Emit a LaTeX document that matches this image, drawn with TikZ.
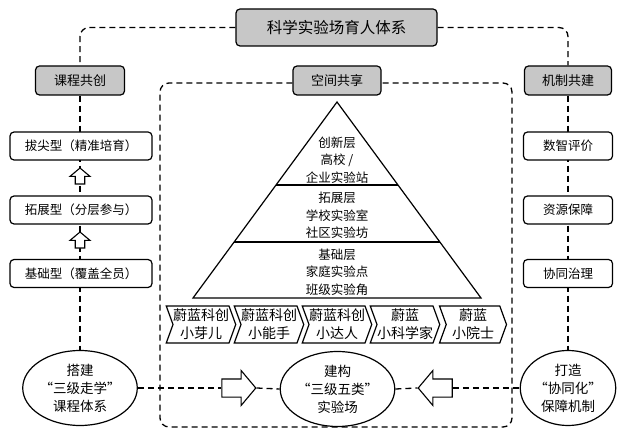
\documentclass[tikz,border=0pt]{standalone}
\usepackage{fontspec}
\setmainfont{Noto Sans CJK SC}
\usetikzlibrary{shapes.geometric, shapes.arrows, shapes.symbols, backgrounds, calc}
\newcommand*{\boxGray}{black!22}
\newcommand*{\lw}{1.2pt}
\newcommand*{\fsz}[2]{\fontsize{#1}{#2}\selectfont}
\tikzset{
  headbox/.style={draw, line width=\lw, rounded corners=4pt, fill=\boxGray, minimum height=29pt, inner sep=0pt, font=\fsz{13}{13}},
  sidebox/.style={draw, line width=\lw, rounded corners=4pt, fill=white, minimum height=28pt, inner sep=0pt, font=\fsz{12.5}{12.5}},
  dashline/.style={line width=1.3pt, dash pattern=on 6pt off 4pt},
  hollowarrow/.style={draw, line width=1.1pt, fill=white, single arrow, inner xsep=0pt, single arrow tip angle=100},
  uparrow/.style={hollowarrow, rotate=90, minimum width=20pt, minimum height=16pt, inner ysep=3.5pt, single arrow head extend=4.5pt},
  chevron/.style={draw, line width=\lw, signal, signal to=east, signal from=west, signal pointer angle=140, minimum width=67pt, minimum height=37pt, inner sep=0pt, align=center, font=\fsz{14}{18}},
  roundnote/.style={draw, line width=\lw, ellipse, fill=white, minimum width=79pt, minimum height=75pt, inner sep=0pt, align=center, font=\fsz{13.5}{18}},
  layertext/.style={align=center, inner sep=0pt, font=\fsz{12.5}{17.5}}
}

\begin{document}
\begin{tikzpicture}[x=1pt, y=-1pt]
\useasboundingbox (0,0) rectangle (618,435);

% top and column heads
\node[headbox, minimum width=201pt, minimum height=37pt, font=\fsz{15.5}{15.5}] (title) at (336.5,27.5) {科学实验场育人体系};
\node[headbox, minimum width=89pt] (course) at (80,80.5) {课程共创};
\node[headbox, minimum width=88pt] (space) at (337,80.5) {空间共享};
\node[headbox, minimum width=87pt] (mech) at (568,80.5) {机制共建};

\foreach \name/\yy/\txt in {Top/146/拔尖型（精准培育）, Mid/210/拓展型（分层参与）, Base/273.5/基础型（覆盖全员）}
    \node[sidebox, minimum width=142pt] (lv\name) at (81,\yy) {\txt};
\foreach \name/\yy/\txt in {Eval/146/数智评价, Res/210/资源保障, Gov/273.5/协同治理}
    \node[sidebox, minimum width=89pt] (mech\name) at (568,\yy) {\txt};

\node[uparrow] (up1) at (80,178) {};
\node[uparrow] (up2) at (80,242) {};

% pyramid
\coordinate (apex) at (337,102);
\coordinate (baseL) at (193,298);
\coordinate (baseR) at (481,298);
\draw[line width=\lw] (apex) -- (baseL) -- (baseR) -- cycle;
\draw[line width=\lw] ($(apex)!0.4235!(baseL)$) -- ($(apex)!0.4235!(baseR)$);
\draw[line width=\lw] ($(apex)!0.714!(baseL)$) -- ($(apex)!0.714!(baseR)$);
\node[layertext] (layerTop) at (337,160) {创新层\\高校\ /\\企业实验站};
\node[layertext] (layerMid) at (337,215.5) {拓展层\\学校实验室\\社区实验坊};
\node[layertext] (layerBase) at (337,272) {基础层\\家庭实验点\\班级实验角};

\foreach \i/\txt in {0/{蔚蓝科创\\小芽儿}, 1/{蔚蓝科创\\小能手}, 2/{蔚蓝科创\\小达人}, 3/{蔚蓝\\小科学家}, 4/{蔚蓝\\小院士}}
    \node[chevron] (chev\i) at (201+68*\i,324.5) {\txt};

% bottom row
\node[roundnote] (build) at (80,388) {搭建\\“三级走学”\\课程体系};
\node[roundnote] (construct) at (337.5,389) {建构\\“三级五类”\\实验场};
\node[roundnote] (shape) at (568,388) {打造\\“协同化”\\保障机制};
\node[hollowarrow, minimum height=34pt, minimum width=34pt, inner ysep=8.5pt, single arrow head extend=8.5pt] (toRight) at (235,388) {};
\node[hollowarrow, rotate=180, minimum height=34pt, minimum width=34pt, inner ysep=8.5pt, single arrow head extend=8.5pt] (toLeft) at (439,388) {};

\coordinate (frameSW) at (160,427);
\coordinate (frameSE) at (512,427);
\coordinate (frameNE) at (512,83);

\begin{scope}[on background layer]
\draw[dashline, rounded corners=9pt] (title.west) -| (course.north);
\draw[dashline, rounded corners=9pt] (title.east) -| (mech.north);
\draw[dashline] (course.south) -- (build.north);
\draw[dashline] (mech.south) -- (shape.north);
\draw[dashline, rounded corners=9pt] ([yshift=-2.5pt]space.west) -| (frameSW) -- (frameSE) -- (frameNE) -- ([yshift=-2.5pt]space.east);
\draw[dashline] (build.east) -- (toRight.tail);
\draw[dashline] (toRight.tip) -- (construct.west);
\draw[dashline] (construct.east) -- (toLeft.tip);
\draw[dashline] (toLeft.tail) -- (shape.west);
\end{scope}
\end{tikzpicture}
\end{document}
